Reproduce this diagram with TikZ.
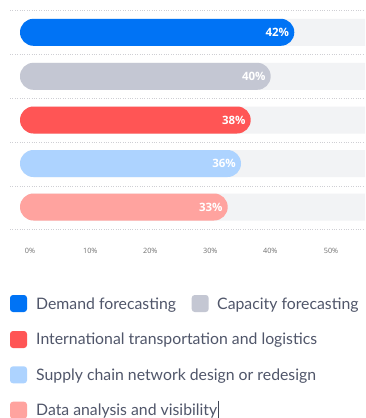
\documentclass[tikz,border=0pt]{standalone}
\usepackage{fontspec}
\setmainfont{Lato}
\newfontfamily\barfont{Open Sans}
\definecolor{cblue}{HTML}{0073F5}
\definecolor{cgrey}{HTML}{C4C7D3}
\definecolor{cred}{HTML}{FF5555}
\definecolor{clblue}{HTML}{ADD3FF}
\definecolor{cpink}{HTML}{FFA39F}
\definecolor{ctrack}{HTML}{F2F3F5}
\definecolor{cdot}{HTML}{CFCFD4}
\definecolor{ctext}{HTML}{50566A}
\definecolor{caxis}{HTML}{6F6F6F}
\begin{document}
\begin{tikzpicture}[x=1pt,y=-1pt,
  dotline/.style={draw=cdot,line width=0.8pt,dash pattern=on 0.8pt off 1.6pt},
  track/.style={fill=ctrack,rounded corners=13.5pt},
  barfill/.style={fill=#1,rounded corners=13.5pt},
  barlbl/.style={font=\barfont\bfseries\fontsize{11.5}{13}\selectfont,text=white,anchor=east,inner sep=0pt},
  axlbl/.style={font=\barfont\fontsize{7.3}{9}\selectfont,text=caxis,inner sep=0pt},
  legsq/.style={fill=#1,rounded corners=3pt},
  legtxt/.style={font=\fontsize{15.8}{18}\selectfont,text=ctext,anchor=base west,inner sep=0pt}]
\useasboundingbox (0,0) rectangle (365,418);
\clip (0,0) rectangle (365,418);
\fill[white] (0,0) rectangle (365,418);
% dotted grid lines
\foreach \y in {10.5,54,98,142,186,229.5}
  \draw[dotline] (10,\y) -- (365,\y);
% bars
\foreach \y/\e/\c/\t/\n in {32.3/294.3/cblue/42/a,76.3/270.7/cgrey/40/b,120/250.7/cred/38/c,163.5/241/clblue/36/d,207/227.7/cpink/33/e}{
  \fill[track] (20,\y-13.5) rectangle (385,\y+13.5);
  \fill[barfill=\c] (20,\y-13.5) rectangle (\e,\y+13.5);
  \node[barlbl] (bar\n) at (\e-5,\y) {\t\%};
}
% axis labels
\foreach \x/\t in {30/0,90.3/10,150.3/20,210.3/30,270.3/40,331/50}
  \node[axlbl] (ax\t) at (\x,250.7) {\t\%};
% legend
\fill[legsq=cblue] (10,295) rectangle (27,312);
\node[legtxt] (leg1) at (36,309.3) {Demand forecasting};
\fill[legsq=cgrey] (191.7,295) rectangle (208.7,312);
\node[legtxt] (leg2) at (217,309.3) {Capacity forecasting};
\fill[legsq=cred] (10,331) rectangle (27,348);
\node[legtxt] (leg3) at (36,344.6) {International transportation and logistics};
\fill[legsq=clblue] (10,366.3) rectangle (27,383.3);
\node[legtxt] (leg4) at (36,380) {Supply chain network design or redesign};
\fill[legsq=cpink] (10,401.7) rectangle (27,418.7);
\node[legtxt] (leg5) at (36,415) {Data analysis and visibility};
% text cursor
\coordinate (cur) at ([xshift=1pt]leg5.base east);
\draw[ctext!80!black,line width=0.8pt] (cur) ++(0,-14.5) -- ++(0,20);
\end{tikzpicture}
\end{document}
